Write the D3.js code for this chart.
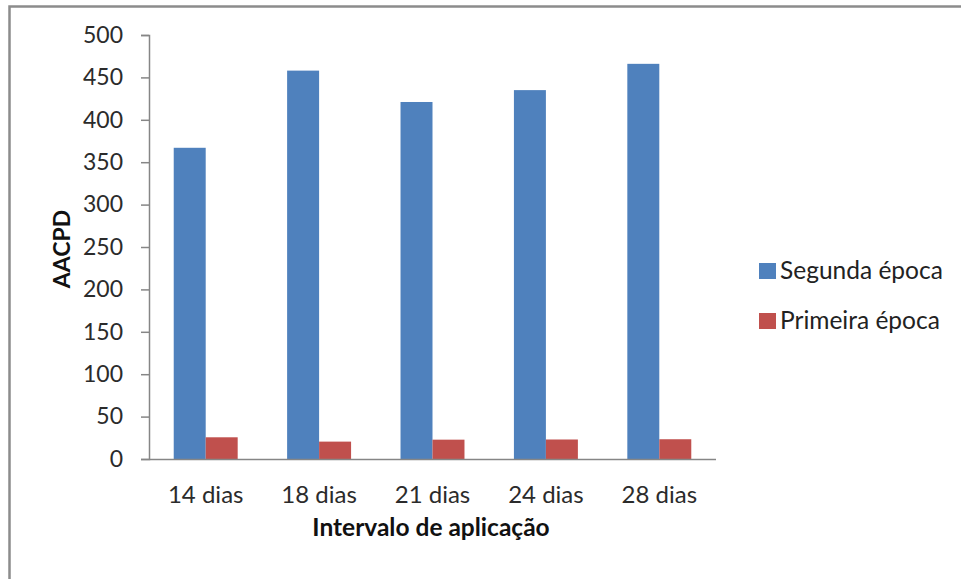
<!DOCTYPE html>
<html>
<head>
<meta charset="utf-8">
<script src="https://cdn.jsdelivr.net/npm/d3@7"></script>
<style>
  html, body { margin: 0; padding: 0; background: #fff; }
  svg { display: block; }
  text { font-family: Lato, "Open Sans", sans-serif; }
</style>
</head>
<body>
<svg id="chart" width="961" height="579"></svg>
<script>
// Intervals between applications and the AACPD for each sowing season
const categories = ["14 dias", "18 dias", "21 dias", "24 dias", "28 dias"];
const seriesNames = ["Segunda época", "Primeira época"];
const segundaEpoca = [367, 458, 421, 435, 466];
const primeiraEpoca = [25.6, 20.5, 22.8, 23, 23.3];
const yTicks = [0, 50, 100, 150, 200, 250, 300, 350, 400, 450, 500];
const colors = ["#4F81BD", "#C0504D"];

const rows = categories.map((c, i) => ({
  category: c,
  values: [segundaEpoca[i], primeiraEpoca[i]]
}));

const svg = d3.select("#chart");

// Frame of the chart area (top and left edges)
svg.append("path")
  .attr("d", "M9.5,579 L9.5,6.5 L961,6.5")
  .attr("fill", "none")
  .attr("stroke", "#8c8c8c")
  .attr("stroke-width", 2.5);

const plot = { left: 149, right: 716, top: 35, bottom: 459 };

const x = d3.scaleBand()
  .domain(categories)
  .range([plot.left, plot.right])
  .paddingInner(0.436)
  .paddingOuter(0.218);

const xs = d3.scaleBand()
  .domain(d3.range(seriesNames.length))
  .range([0, x.bandwidth()]);

const y = d3.scaleLinear()
  .domain([0, 500])
  .range([plot.bottom, plot.top]);

// Bars
const groups = svg.append("g")
  .selectAll("g")
  .data(rows)
  .join("g")
  .attr("transform", d => `translate(${x(d.category)},0)`);

groups.selectAll("rect")
  .data(d => d.values.map((v, i) => ({ v, i })))
  .join("rect")
  .attr("x", d => xs(d.i))
  .attr("width", xs.bandwidth())
  .attr("y", d => y(d.v))
  .attr("height", d => y(0) - y(d.v))
  .attr("fill", d => colors[d.i]);

// Y axis
const yAxis = svg.append("g")
  .attr("transform", `translate(${plot.left},0)`)
  .call(d3.axisLeft(y).tickValues(yTicks).tickSize(8).tickPadding(18).tickFormat(d3.format("d")));
yAxis.select(".domain").attr("stroke", "#868686").attr("stroke-width", 1.5);
yAxis.selectAll(".tick line").attr("stroke", "#868686").attr("stroke-width", 1.5);
yAxis.selectAll(".tick text")
  .attr("font-size", 23)
  .attr("fill", "#2b2b2b")
  .style("font-family", "Lato, 'Open Sans', sans-serif");

// X axis
const xAxis = svg.append("g")
  .attr("transform", `translate(0,${plot.bottom})`)
  .call(d3.axisBottom(x).tickSize(0).tickPadding(27));
xAxis.select(".domain").attr("stroke", "#868686").attr("stroke-width", 1.5)
  .attr("d", `M${plot.left},0.5H${plot.right}`);
xAxis.selectAll(".tick text")
  .attr("font-size", 24)
  .attr("fill", "#2b2b2b")
  .style("font-family", "Lato, 'Open Sans', sans-serif");

// Axis titles
svg.append("text")
  .attr("transform", "translate(70,249) rotate(-90)")
  .attr("text-anchor", "middle")
  .attr("font-size", 23)
  .attr("font-weight", "bold")
  .attr("fill", "#111")
  .text("AACPD");

svg.append("text")
  .attr("x", 431)
  .attr("y", 536)
  .attr("text-anchor", "middle")
  .attr("font-size", 24.5)
  .attr("font-weight", "bold")
  .attr("fill", "#111")
  .text("Intervalo de aplicação");

// Legend
const legend = svg.append("g")
  .selectAll("g")
  .data(seriesNames)
  .join("g")
  .attr("transform", (d, i) => `translate(759,${263 + i * 50})`);

legend.append("rect")
  .attr("width", 17)
  .attr("height", 16)
  .attr("fill", (d, i) => colors[i]);

legend.append("text")
  .attr("x", 21)
  .attr("y", 16)
  .attr("font-size", 24.5)
  .attr("fill", "#222")
  .text(d => d);
</script>
</body>
</html>
